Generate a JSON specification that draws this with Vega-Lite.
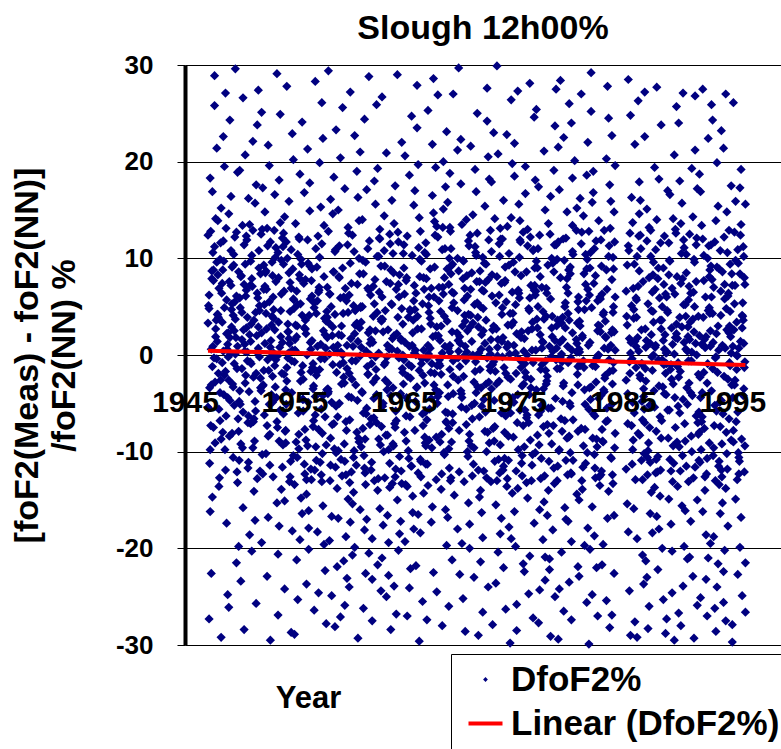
{
"$schema": "https://vega.github.io/schema/vega-lite/v6.json",
"width": 596, "height": 580,
"autosize": "none",
"padding": {"left": 185, "top": 65, "right": 0, "bottom": 104},
"background": "white",
"config": {"view": {"stroke": null}, "font": "Liberation Sans"},
"title": {"text": "Slough 12h00%", "fontSize": 34, "fontWeight": "bold", "font": "Liberation Sans", "color": "black", "anchor": "middle", "frame": "group", "baseline": "alphabetic", "offset": 25, "dy": 46},
"datasets": {
"pts": [
{"x":1947.1,"y":12.4},{"x":1947.4,"y":-3.1},{"x":1947.7,"y":25.8},{"x":1947.2,"y":6.2},{"x":1947.5,"y":-14.7},{"x":1947.8,"y":1.9},{"x":1947.3,"y":18.3},{"x":1947.6,"y":-7.5},{"x":1947.9,"y":9.6},
{"x":1947.1,"y":3.3},{"x":1947.4,"y":-22.6},{"x":1947.7,"y":28.9},{"x":1947.2,"y":4.8},{"x":1947.5,"y":-1.2},{"x":1947.8,"y":14.1},{"x":1947.3,"y":-9.8},{"x":1947.6,"y":7.7},{"x":1947.9,"y":21.4},
{"x":1947.1,"y":-5.4},{"x":1947.4,"y":0.6},{"x":1947.7,"y":11.2},{"x":1947.2,"y":-27.3},{"x":1947.5,"y":16.9},{"x":1947.8,"y":2.7},{"x":1947.3,"y":-16.2},{"x":1947.6,"y":8.8},{"x":1947.9,"y":-0.4},
{"x":1948.0,"y":4.2},{"x":1948.3,"y":-8.7},{"x":1948.6,"y":19.5},{"x":1948.9,"y":1.1},{"x":1948.2,"y":-3.9},{"x":1948.5,"y":11.8},{"x":1948.8,"y":-17.4},{"x":1948.1,"y":6.9},{"x":1948.4,"y":-0.8},{"x":1948.7,"y":27.1},
{"x":1948.1,"y":-5.6},{"x":1948.4,"y":3.4},{"x":1948.7,"y":-11.9},{"x":1948.0,"y":8.3},{"x":1948.3,"y":15.2},{"x":1948.6,"y":-2.1},{"x":1948.9,"y":-24.8},{"x":1948.2,"y":9.9},{"x":1948.5,"y":0.4},{"x":1948.8,"y":5.7},
{"x":1948.2,"y":-6.8},{"x":1948.5,"y":22.6},{"x":1948.8,"y":2.2},{"x":1948.1,"y":-13.6},{"x":1948.4,"y":7.4},{"x":1948.7,"y":-1.7},{"x":1948.0,"y":13.9},{"x":1948.3,"y":-29.2},{"x":1948.6,"y":4.9},{"x":1948.9,"y":-4.4},
{"x":1949.0,"y":-2.6},{"x":1949.3,"y":9.1},{"x":1949.6,"y":3.7},{"x":1949.9,"y":-19.8},{"x":1949.2,"y":16.4},{"x":1949.5,"y":-5.2},{"x":1949.8,"y":0.9},{"x":1949.1,"y":24.3},{"x":1949.4,"y":-10.6},{"x":1949.7,"y":6.1},
{"x":1949.1,"y":1.8},{"x":1949.4,"y":-3.3},{"x":1949.7,"y":12.7},{"x":1949.0,"y":-26.1},{"x":1949.3,"y":5.3},{"x":1949.6,"y":29.6},{"x":1949.9,"y":-7.9},{"x":1949.2,"y":10.8},{"x":1949.5,"y":2.5},{"x":1949.8,"y":-13.2},
{"x":1949.2,"y":7.2},{"x":1949.5,"y":-0.9},{"x":1949.8,"y":18.9},{"x":1949.1,"y":-4.7},{"x":1949.4,"y":4.1},{"x":1949.7,"y":-21.5},{"x":1949.0,"y":14.6},{"x":1949.3,"y":-8.1},{"x":1949.6,"y":0.1},{"x":1949.9,"y":8.6},
{"x":1950.0,"y":5.9},{"x":1950.3,"y":-15.8},{"x":1950.6,"y":2.8},{"x":1950.9,"y":13.5},{"x":1950.2,"y":-1.4},{"x":1950.5,"y":20.7},{"x":1950.8,"y":-6.3},{"x":1950.1,"y":8.1},{"x":1950.4,"y":-28.4},{"x":1950.7,"y":3.9},
{"x":1950.1,"y":-9.2},{"x":1950.4,"y":11.4},{"x":1950.7,"y":0.3},{"x":1950.0,"y":-3.7},{"x":1950.3,"y":26.6},{"x":1950.6,"y":6.7},{"x":1950.9,"y":-18.6},{"x":1950.2,"y":1.6},{"x":1950.5,"y":9.4},{"x":1950.8,"y":-11.1},
{"x":1950.2,"y":4.4},{"x":1950.5,"y":-2.9},{"x":1950.8,"y":16.2},{"x":1950.1,"y":-23.4},{"x":1950.4,"y":7.3},{"x":1950.7,"y":-0.6},{"x":1950.0,"y":19.1},{"x":1950.3,"y":-5.9},{"x":1950.6,"y":12.3},{"x":1950.9,"y":2.1},
{"x":1951.0,"y":-7.1},{"x":1951.3,"y":3.6},{"x":1951.6,"y":-12.8},{"x":1951.9,"y":8.4},{"x":1951.2,"y":22.1},{"x":1951.5,"y":-1.9},{"x":1951.8,"y":5.1},{"x":1951.1,"y":-20.3},{"x":1951.4,"y":15.7},{"x":1951.7,"y":0.7},
{"x":1951.1,"y":10.3},{"x":1951.4,"y":-4.8},{"x":1951.7,"y":27.4},{"x":1951.0,"y":1.4},{"x":1951.3,"y":-14.1},{"x":1951.6,"y":6.4},{"x":1951.9,"y":-2.4},{"x":1951.2,"y":12.9},{"x":1951.5,"y":-25.7},{"x":1951.8,"y":4.6},
{"x":1951.2,"y":-9.6},{"x":1951.5,"y":17.6},{"x":1951.8,"y":-0.2},{"x":1951.1,"y":7.9},{"x":1951.4,"y":-17.1},{"x":1951.7,"y":2.9},{"x":1951.0,"y":9.7},{"x":1951.3,"y":-6.6},{"x":1951.6,"y":23.8},{"x":1951.9,"y":-3.4},
{"x":1952.0,"y":2.3},{"x":1952.3,"y":14.8},{"x":1952.6,"y":-8.4},{"x":1952.9,"y":-0.1},{"x":1952.2,"y":6.8},{"x":1952.5,"y":-22.9},{"x":1952.8,"y":11.7},{"x":1952.1,"y":-3.2},{"x":1952.4,"y":4.3},{"x":1952.7,"y":19.6},
{"x":1952.1,"y":-12.3},{"x":1952.4,"y":8.7},{"x":1952.7,"y":-5.1},{"x":1952.0,"y":25.1},{"x":1952.3,"y":1.2},{"x":1952.6,"y":-16.8},{"x":1952.9,"y":3.1},{"x":1952.2,"y":-1.6},{"x":1952.5,"y":13.1},{"x":1952.8,"y":-29.5},
{"x":1952.2,"y":9.3},{"x":1952.5,"y":-7.3},{"x":1952.8,"y":0.8},{"x":1952.1,"y":17.3},{"x":1952.4,"y":-10.2},{"x":1952.7,"y":5.5},{"x":1952.0,"y":-19.4},{"x":1952.3,"y":7.1},{"x":1952.6,"y":21.7},{"x":1952.9,"y":-4.1},
{"x":1953.0,"y":-4.9},{"x":1953.3,"y":7.6},{"x":1953.6,"y":18.1},{"x":1953.9,"y":-11.6},{"x":1953.2,"y":2.6},{"x":1953.5,"y":-26.9},{"x":1953.8,"y":9.8},{"x":1953.1,"y":0.2},{"x":1953.4,"y":-6.9},{"x":1953.7,"y":13.7},
{"x":1953.1,"y":4.7},{"x":1953.4,"y":-15.3},{"x":1953.7,"y":24.9},{"x":1953.0,"y":-2.2},{"x":1953.3,"y":11.1},{"x":1953.6,"y":-8.9},{"x":1953.9,"y":1.3},{"x":1953.2,"y":16.6},{"x":1953.5,"y":-20.6},{"x":1953.8,"y":6.3},
{"x":1953.2,"y":-1.1},{"x":1953.5,"y":10.6},{"x":1953.8,"y":-13.9},{"x":1953.1,"y":3.8},{"x":1953.4,"y":29.1},{"x":1953.7,"y":-5.7},{"x":1953.0,"y":8.2},{"x":1953.3,"y":-0.5},{"x":1953.6,"y":-17.7},{"x":1953.9,"y":12.1},
{"x":1954.0,"y":9.4},{"x":1954.3,"y":-2.7},{"x":1954.6,"y":4.5},{"x":1954.9,"y":20.2},{"x":1954.2,"y":-9.1},{"x":1954.5,"y":1.7},{"x":1954.8,"y":-18.2},{"x":1954.1,"y":14.3},{"x":1954.4,"y":-0.3},{"x":1954.7,"y":6.9},
{"x":1954.1,"y":-24.2},{"x":1954.4,"y":3.2},{"x":1954.7,"y":10.9},{"x":1954.0,"y":-6.1},{"x":1954.3,"y":27.8},{"x":1954.6,"y":-12.6},{"x":1954.9,"y":5.8},{"x":1954.2,"y":-3.6},{"x":1954.5,"y":15.9},{"x":1954.8,"y":0.5},
{"x":1954.2,"y":-7.8},{"x":1954.5,"y":8.5},{"x":1954.8,"y":22.9},{"x":1954.1,"y":-15.1},{"x":1954.4,"y":2.4},{"x":1954.7,"y":-28.7},{"x":1954.0,"y":12.6},{"x":1954.3,"y":-1.3},{"x":1954.6,"y":7.5},{"x":1954.9,"y":-10.4},
{"x":1955.0,"y":-13.4},{"x":1955.3,"y":5.2},{"x":1955.6,"y":-1.8},{"x":1955.9,"y":16.8},{"x":1955.2,"y":-21.2},{"x":1955.5,"y":7.9},{"x":1955.8,"y":-4.6},{"x":1955.1,"y":0.4},{"x":1955.4,"y":12.2},{"x":1955.7,"y":-16.4},
{"x":1955.1,"y":3.1},{"x":1955.4,"y":-8.2},{"x":1955.7,"y":24.1},{"x":1955.0,"y":-0.7},{"x":1955.3,"y":-25.3},{"x":1955.6,"y":9.9},{"x":1955.9,"y":-11.3},{"x":1955.2,"y":1.9},{"x":1955.5,"y":18.7},{"x":1955.8,"y":-5.8},
{"x":1955.2,"y":6.6},{"x":1955.5,"y":-19.1},{"x":1955.8,"y":-2.5},{"x":1955.1,"y":13.6},{"x":1955.4,"y":-9.7},{"x":1955.7,"y":4.1},{"x":1955.0,"y":-28.9},{"x":1955.3,"y":10.4},{"x":1955.6,"y":-14.8},{"x":1955.9,"y":2.8},
{"x":1956.0,"y":7.8},{"x":1956.3,"y":-17.9},{"x":1956.6,"y":1.5},{"x":1956.9,"y":-6.2},{"x":1956.2,"y":21.3},{"x":1956.5,"y":-11.8},{"x":1956.8,"y":4.9},{"x":1956.1,"y":-23.7},{"x":1956.4,"y":9.2},{"x":1956.7,"y":-0.9},
{"x":1956.1,"y":-14.4},{"x":1956.4,"y":14.9},{"x":1956.7,"y":-3.5},{"x":1956.0,"y":2.7},{"x":1956.3,"y":-20.1},{"x":1956.6,"y":6.1},{"x":1956.9,"y":28.3},{"x":1956.2,"y":-9.4},{"x":1956.5,"y":0.6},{"x":1956.8,"y":-26.4},
{"x":1956.2,"y":11.9},{"x":1956.5,"y":-1.7},{"x":1956.8,"y":5.4},{"x":1956.1,"y":-12.9},{"x":1956.4,"y":17.8},{"x":1956.7,"y":-7.4},{"x":1956.0,"y":3.6},{"x":1956.3,"y":-16.1},{"x":1956.6,"y":8.9},{"x":1956.9,"y":-4.3},
{"x":1957.0,"y":-2.1},{"x":1957.3,"y":10.1},{"x":1957.6,"y":-15.6},{"x":1957.9,"y":3.5},{"x":1957.2,"y":-7.7},{"x":1957.5,"y":26.1},{"x":1957.8,"y":-22.3},{"x":1957.1,"y":5.6},{"x":1957.4,"y":-0.4},{"x":1957.7,"y":13.4},
{"x":1957.1,"y":-18.3},{"x":1957.4,"y":1.1},{"x":1957.7,"y":8.1},{"x":1957.0,"y":-10.9},{"x":1957.3,"y":19.9},{"x":1957.6,"y":-4.2},{"x":1957.9,"y":-27.8},{"x":1957.2,"y":6.5},{"x":1957.5,"y":-13.1},{"x":1957.8,"y":2.1},
{"x":1957.2,"y":-24.6},{"x":1957.5,"y":11.5},{"x":1957.8,"y":-6.4},{"x":1957.1,"y":0.9},{"x":1957.4,"y":15.3},{"x":1957.7,"y":-19.6},{"x":1957.0,"y":4.3},{"x":1957.3,"y":-1.5},{"x":1957.6,"y":22.4},{"x":1957.9,"y":-9.3},
{"x":1958.0,"y":3.9},{"x":1958.3,"y":-11.4},{"x":1958.6,"y":8.6},{"x":1958.9,"y":-21.9},{"x":1958.2,"y":0.1},{"x":1958.5,"y":14.6},{"x":1958.8,"y":-5.3},{"x":1958.1,"y":29.4},{"x":1958.4,"y":-16.7},{"x":1958.7,"y":4.2},
{"x":1958.1,"y":-3.8},{"x":1958.4,"y":-24.9},{"x":1958.7,"y":10.7},{"x":1958.0,"y":1.8},{"x":1958.3,"y":-8.6},{"x":1958.6,"y":18.4},{"x":1958.9,"y":-13.8},{"x":1958.2,"y":6.3},{"x":1958.5,"y":-1.0},{"x":1958.8,"y":23.3},
{"x":1958.2,"y":-19.2},{"x":1958.5,"y":2.9},{"x":1958.8,"y":-10.1},{"x":1958.1,"y":12.8},{"x":1958.4,"y":-4.9},{"x":1958.7,"y":-28.1},{"x":1958.0,"y":7.0},{"x":1958.3,"y":16.1},{"x":1958.6,"y":-7.1},{"x":1958.9,"y":0.3},
{"x":1959.0,"y":-9.9},{"x":1959.3,"y":2.0},{"x":1959.6,"y":17.2},{"x":1959.9,"y":-14.9},{"x":1959.2,"y":5.9},{"x":1959.5,"y":-2.3},{"x":1959.8,"y":-23.1},{"x":1959.1,"y":11.3},{"x":1959.4,"y":0.0},{"x":1959.7,"y":-18.8},
{"x":1959.1,"y":8.0},{"x":1959.4,"y":25.6},{"x":1959.7,"y":-6.9},{"x":1959.0,"y":-16.9},{"x":1959.3,"y":3.0},{"x":1959.6,"y":-11.0},{"x":1959.9,"y":13.2},{"x":1959.2,"y":-27.1},{"x":1959.5,"y":6.0},{"x":1959.8,"y":-1.4},
{"x":1959.2,"y":20.4},{"x":1959.5,"y":-21.3},{"x":1959.8,"y":1.0},{"x":1959.1,"y":-5.0},{"x":1959.4,"y":9.0},{"x":1959.7,"y":-12.4},{"x":1959.0,"y":15.0},{"x":1959.3,"y":-3.0},{"x":1959.6,"y":-25.9},{"x":1959.9,"y":4.4},
{"x":1960.0,"y":6.2},{"x":1960.3,"y":-20.7},{"x":1960.6,"y":-3.1},{"x":1960.9,"y":10.0},{"x":1960.2,"y":-12.1},{"x":1960.5,"y":22.7},{"x":1960.8,"y":1.4},{"x":1960.1,"y":-17.3},{"x":1960.4,"y":5.1},{"x":1960.7,"y":-8.0},
{"x":1960.1,"y":27.2},{"x":1960.4,"y":-14.2},{"x":1960.7,"y":3.3},{"x":1960.0,"y":-24.0},{"x":1960.3,"y":12.4},{"x":1960.6,"y":-0.6},{"x":1960.9,"y":-9.0},{"x":1960.2,"y":7.4},{"x":1960.5,"y":-19.9},{"x":1960.8,"y":16.3},
{"x":1960.2,"y":-4.4},{"x":1960.5,"y":2.2},{"x":1960.8,"y":-29.3},{"x":1960.1,"y":9.5},{"x":1960.4,"y":-10.6},{"x":1960.7,"y":19.0},{"x":1960.0,"y":-1.9},{"x":1960.3,"y":-15.4},{"x":1960.6,"y":4.7},{"x":1960.9,"y":13.9},
{"x":1961.0,"y":-16.0},{"x":1961.3,"y":8.4},{"x":1961.6,"y":-5.5},{"x":1961.9,"y":1.2},{"x":1961.2,"y":14.0},{"x":1961.5,"y":-22.6},{"x":1961.8,"y":6.7},{"x":1961.1,"y":-9.5},{"x":1961.4,"y":24.4},{"x":1961.7,"y":-2.0},
{"x":1961.1,"y":3.4},{"x":1961.4,"y":-18.1},{"x":1961.7,"y":11.0},{"x":1961.0,"y":-0.1},{"x":1961.3,"y":-26.2},{"x":1961.6,"y":17.1},{"x":1961.9,"y":-7.2},{"x":1961.2,"y":5.0},{"x":1961.5,"y":-13.4},{"x":1961.8,"y":28.8},
{"x":1961.2,"y":-3.9},{"x":1961.5,"y":9.6},{"x":1961.8,"y":-20.5},{"x":1961.1,"y":0.8},{"x":1961.4,"y":-11.7},{"x":1961.7,"y":6.9},{"x":1961.0,"y":21.0},{"x":1961.3,"y":-6.0},{"x":1961.6,"y":-17.0},{"x":1961.9,"y":2.6},
{"x":1962.0,"y":1.6},{"x":1962.3,"y":-13.0},{"x":1962.6,"y":19.3},{"x":1962.9,"y":-24.4},{"x":1962.2,"y":7.1},{"x":1962.5,"y":-4.1},{"x":1962.8,"y":12.0},{"x":1962.1,"y":-19.0},{"x":1962.4,"y":2.5},{"x":1962.7,"y":-8.7},
{"x":1962.1,"y":-27.5},{"x":1962.4,"y":15.6},{"x":1962.7,"y":0.2},{"x":1962.0,"y":-11.9},{"x":1962.3,"y":5.3},{"x":1962.6,"y":-21.7},{"x":1962.9,"y":9.2},{"x":1962.2,"y":-2.8},{"x":1962.5,"y":25.9},{"x":1962.8,"y":-15.9},
{"x":1962.2,"y":4.0},{"x":1962.5,"y":-7.0},{"x":1962.8,"y":13.0},{"x":1962.1,"y":-23.2},{"x":1962.4,"y":-0.2},{"x":1962.7,"y":10.2},{"x":1962.0,"y":-6.6},{"x":1962.3,"y":18.0},{"x":1962.6,"y":-14.0},{"x":1962.9,"y":3.7},
{"x":1963.0,"y":-21.0},{"x":1963.3,"y":4.6},{"x":1963.6,"y":-9.8},{"x":1963.9,"y":16.0},{"x":1963.2,"y":-1.0},{"x":1963.5,"y":-16.6},{"x":1963.8,"y":8.8},{"x":1963.1,"y":2.4},{"x":1963.4,"y":-25.0},{"x":1963.7,"y":12.5},
{"x":1963.1,"y":-5.0},{"x":1963.4,"y":20.9},{"x":1963.7,"y":-13.7},{"x":1963.0,"y":6.0},{"x":1963.3,"y":-2.6},{"x":1963.6,"y":-19.4},{"x":1963.9,"y":0.6},{"x":1963.2,"y":10.8},{"x":1963.5,"y":-8.3},{"x":1963.8,"y":-28.4},
{"x":1963.2,"y":14.4},{"x":1963.5,"y":1.0},{"x":1963.8,"y":-4.2},{"x":1963.1,"y":-17.6},{"x":1963.4,"y":7.6},{"x":1963.7,"y":-11.2},{"x":1963.0,"y":26.7},{"x":1963.3,"y":-0.8},{"x":1963.6,"y":-22.8},{"x":1963.9,"y":5.2},
{"x":1964.0,"y":10.5},{"x":1964.3,"y":-6.8},{"x":1964.6,"y":-18.5},{"x":1964.9,"y":3.2},{"x":1964.2,"y":-12.6},{"x":1964.5,"y":7.3},{"x":1964.8,"y":22.0},{"x":1964.1,"y":-23.9},{"x":1964.4,"y":0.4},{"x":1964.7,"y":-4.0},
{"x":1964.1,"y":13.6},{"x":1964.4,"y":-15.0},{"x":1964.7,"y":1.7},{"x":1964.0,"y":-9.2},{"x":1964.3,"y":-26.8},{"x":1964.6,"y":8.3},{"x":1964.9,"y":-1.8},{"x":1964.2,"y":17.5},{"x":1964.5,"y":-20.2},{"x":1964.8,"y":4.8},
{"x":1964.2,"y":-7.5},{"x":1964.5,"y":11.7},{"x":1964.8,"y":-13.3},{"x":1964.1,"y":2.0},{"x":1964.4,"y":29.0},{"x":1964.7,"y":-17.2},{"x":1964.0,"y":-3.4},{"x":1964.3,"y":6.8},{"x":1964.6,"y":-10.5},{"x":1964.9,"y":0.0},
{"x":1965.0,"y":-0.5},{"x":1965.3,"y":12.3},{"x":1965.6,"y":-22.1},{"x":1965.9,"y":5.6},{"x":1965.2,"y":-8.9},{"x":1965.5,"y":18.6},{"x":1965.8,"y":-14.6},{"x":1965.1,"y":1.3},{"x":1965.4,"y":-4.7},{"x":1965.7,"y":24.7},
{"x":1965.1,"y":-19.3},{"x":1965.4,"y":3.9},{"x":1965.7,"y":-11.5},{"x":1965.0,"y":9.0},{"x":1965.3,"y":-27.0},{"x":1965.6,"y":-2.4},{"x":1965.9,"y":15.5},{"x":1965.2,"y":-6.3},{"x":1965.5,"y":0.9},{"x":1965.8,"y":-16.3},
{"x":1965.2,"y":7.7},{"x":1965.5,"y":-24.1},{"x":1965.8,"y":2.3},{"x":1965.1,"y":20.6},{"x":1965.4,"y":-9.9},{"x":1965.7,"y":-1.2},{"x":1965.0,"y":11.4},{"x":1965.3,"y":-13.6},{"x":1965.6,"y":4.5},{"x":1965.9,"y":-18.0},
{"x":1966.0,"y":4.7},{"x":1966.3,"y":-16.5},{"x":1966.6,"y":9.7},{"x":1966.9,"y":-2.9},{"x":1966.2,"y":23.5},{"x":1966.5,"y":-10.8},{"x":1966.8,"y":0.5},{"x":1966.1,"y":-21.8},{"x":1966.4,"y":14.2},{"x":1966.7,"y":-6.1},
{"x":1966.1,"y":6.4},{"x":1966.4,"y":-1.6},{"x":1966.7,"y":-25.5},{"x":1966.0,"y":17.0},{"x":1966.3,"y":-12.2},{"x":1966.6,"y":2.7},{"x":1966.9,"y":-8.5},{"x":1966.2,"y":27.9},{"x":1966.5,"y":-18.4},{"x":1966.8,"y":8.0},
{"x":1966.2,"y":-3.3},{"x":1966.5,"y":12.8},{"x":1966.8,"y":-14.3},{"x":1966.1,"y":0.0},{"x":1966.4,"y":-29.6},{"x":1966.7,"y":5.3},{"x":1966.0,"y":-7.8},{"x":1966.3,"y":19.7},{"x":1966.6,"y":-0.9},{"x":1966.9,"y":10.6},
{"x":1967.0,"y":-11.3},{"x":1967.3,"y":6.0},{"x":1967.6,"y":21.8},{"x":1967.9,"y":-3.6},{"x":1967.2,"y":1.0},{"x":1967.5,"y":-17.3},{"x":1967.8,"y":13.8},{"x":1967.1,"y":-6.7},{"x":1967.4,"y":8.9},{"x":1967.7,"y":28.6},
{"x":1967.1,"y":-0.4},{"x":1967.4,"y":3.8},{"x":1967.7,"y":-22.5},{"x":1967.0,"y":11.6},{"x":1967.3,"y":-8.8},{"x":1967.6,"y":16.5},{"x":1967.9,"y":2.0},{"x":1967.2,"y":-13.5},{"x":1967.5,"y":6.9},{"x":1967.8,"y":-1.9},
{"x":1967.2,"y":25.3},{"x":1967.5,"y":-4.5},{"x":1967.8,"y":9.1},{"x":1967.1,"y":-27.4},{"x":1967.4,"y":0.7},{"x":1967.7,"y":14.7},{"x":1967.0,"y":-9.4},{"x":1967.3,"y":4.4},{"x":1967.6,"y":-15.7},{"x":1967.9,"y":19.4},
{"x":1968.0,"y":2.9},{"x":1968.3,"y":-9.0},{"x":1968.6,"y":15.1},{"x":1968.9,"y":-19.7},{"x":1968.2,"y":7.0},{"x":1968.5,"y":0.2},{"x":1968.8,"y":-5.9},{"x":1968.1,"y":26.9},{"x":1968.4,"y":-13.9},{"x":1968.7,"y":4.0},
{"x":1968.1,"y":12.2},{"x":1968.4,"y":-2.0},{"x":1968.7,"y":8.0},{"x":1968.0,"y":-24.5},{"x":1968.3,"y":1.5},{"x":1968.6,"y":20.0},{"x":1968.9,"y":-7.0},{"x":1968.2,"y":-0.9},{"x":1968.5,"y":10.9},{"x":1968.8,"y":-16.0},
{"x":1968.2,"y":5.6},{"x":1968.5,"y":-28.0},{"x":1968.8,"y":17.4},{"x":1968.1,"y":-4.3},{"x":1968.4,"y":3.0},{"x":1968.7,"y":-10.3},{"x":1968.0,"y":13.3},{"x":1968.3,"y":-1.1},{"x":1968.6,"y":6.3},{"x":1968.9,"y":23.1},
{"x":1969.0,"y":-6.0},{"x":1969.3,"y":11.0},{"x":1969.6,"y":-14.5},{"x":1969.9,"y":4.6},{"x":1969.2,"y":18.8},{"x":1969.5,"y":-2.2},{"x":1969.1,"y":7.3},{"x":1969.4,"y":-21.2},{"x":1969.2,"y":0.3},{"x":1969.0,"y":15.8},
{"x":1969.1,"y":-9.7},{"x":1969.4,"y":2.4},{"x":1969.5,"y":27.0},{"x":1969.0,"y":-3.1},{"x":1969.3,"y":9.2},{"x":1969.9,"y":-18.0},{"x":1969.2,"y":1.0},{"x":1969.3,"y":-12.7},{"x":1969.4,"y":6.5},{"x":1969.1,"y":-26.0},
{"x":1969.2,"y":13.2},{"x":1969.5,"y":-0.6},{"x":1969.9,"y":21.2},{"x":1969.1,"y":-7.6},{"x":1969.4,"y":4.9},{"x":1969.0,"y":-16.8},{"x":1969.3,"y":8.4},{"x":1969.5,"y":-4.0},{"x":1969.9,"y":10.0},{"x":1969.2,"y":-1.5},
{"x":1970.0,"y":8.7},{"x":1970.3,"y":-4.4},{"x":1970.6,"y":0.9},{"x":1970.9,"y":-15.3},{"x":1970.2,"y":22.3},{"x":1970.5,"y":5.7},{"x":1970.8,"y":-10.0},{"x":1970.1,"y":1.9},{"x":1970.4,"y":-25.2},{"x":1970.7,"y":14.0},
{"x":1970.1,"y":-1.2},{"x":1970.4,"y":7.9},{"x":1970.7,"y":-7.2},{"x":1970.0,"y":29.7},{"x":1970.3,"y":-19.5},{"x":1970.6,"y":3.5},{"x":1970.9,"y":11.8},{"x":1970.2,"y":-3.7},{"x":1970.5,"y":-13.1},{"x":1970.8,"y":6.1},
{"x":1970.2,"y":17.7},{"x":1970.5,"y":-0.1},{"x":1970.8,"y":2.5},{"x":1970.1,"y":-22.7},{"x":1970.4,"y":9.8},{"x":1970.7,"y":-5.6},{"x":1970.0,"y":0.4},{"x":1970.3,"y":13.5},{"x":1970.6,"y":-28.6},{"x":1970.9,"y":4.2},
{"x":1971.0,"y":-17.5},{"x":1971.3,"y":3.3},{"x":1971.6,"y":10.3},{"x":1971.9,"y":-6.4},{"x":1971.2,"y":1.4},{"x":1971.5,"y":19.2},{"x":1971.8,"y":-11.9},{"x":1971.1,"y":6.8},{"x":1971.4,"y":-2.8},{"x":1971.7,"y":25.0},
{"x":1971.1,"y":4.1},{"x":1971.4,"y":-23.0},{"x":1971.7,"y":12.6},{"x":1971.0,"y":-8.2},{"x":1971.3,"y":0.0},{"x":1971.6,"y":16.9},{"x":1971.9,"y":-14.7},{"x":1971.2,"y":8.5},{"x":1971.5,"y":-1.7},{"x":1971.8,"y":-29.0},
{"x":1971.2,"y":-5.2},{"x":1971.5,"y":11.2},{"x":1971.8,"y":2.9},{"x":1971.1,"y":21.6},{"x":1971.4,"y":-9.6},{"x":1971.7,"y":5.4},{"x":1971.0,"y":-20.0},{"x":1971.3,"y":14.5},{"x":1971.6,"y":-3.9},{"x":1971.9,"y":7.6},
{"x":1972.0,"y":5.0},{"x":1972.3,"y":-12.0},{"x":1972.6,"y":27.6},{"x":1972.9,"y":-1.6},{"x":1972.2,"y":-18.9},{"x":1972.5,"y":9.4},{"x":1972.8,"y":0.6},{"x":1972.1,"y":-5.3},{"x":1972.4,"y":15.4},{"x":1972.7,"y":-24.0},
{"x":1972.1,"y":2.1},{"x":1972.4,"y":-7.9},{"x":1972.7,"y":20.5},{"x":1972.0,"y":-14.0},{"x":1972.3,"y":6.6},{"x":1972.6,"y":-0.3},{"x":1972.9,"y":12.9},{"x":1972.2,"y":-26.6},{"x":1972.5,"y":3.6},{"x":1972.8,"y":-9.1},
{"x":1972.2,"y":10.1},{"x":1972.5,"y":-3.0},{"x":1972.8,"y":18.2},{"x":1972.1,"y":-16.3},{"x":1972.4,"y":1.2},{"x":1972.7,"y":7.8},{"x":1972.0,"y":-21.4},{"x":1972.3,"y":-4.6},{"x":1972.6,"y":24.2},{"x":1972.9,"y":0.1},
{"x":1973.0,"y":-3.5},{"x":1973.3,"y":14.1},{"x":1973.6,"y":-20.4},{"x":1973.9,"y":7.4},{"x":1973.2,"y":-0.7},{"x":1973.5,"y":29.9},{"x":1973.8,"y":-9.3},{"x":1973.1,"y":2.6},{"x":1973.4,"y":-15.5},{"x":1973.7,"y":11.5},
{"x":1973.1,"y":-27.9},{"x":1973.4,"y":5.4},{"x":1973.7,"y":-2.7},{"x":1973.0,"y":17.9},{"x":1973.3,"y":-11.0},{"x":1973.6,"y":1.6},{"x":1973.9,"y":-6.0},{"x":1973.2,"y":23.0},{"x":1973.5,"y":8.1},{"x":1973.8,"y":-18.5},
{"x":1973.2,"y":3.0},{"x":1973.5,"y":-13.0},{"x":1973.8,"y":13.1},{"x":1973.1,"y":-1.0},{"x":1973.4,"y":-23.6},{"x":1973.7,"y":6.2},{"x":1973.0,"y":10.7},{"x":1973.3,"y":-7.4},{"x":1973.6,"y":20.8},{"x":1973.9,"y":-16.9},
{"x":1974.0,"y":12.0},{"x":1974.3,"y":-1.9},{"x":1974.6,"y":-17.8},{"x":1974.9,"y":6.5},{"x":1974.2,"y":-10.7},{"x":1974.5,"y":3.1},{"x":1974.8,"y":26.4},{"x":1974.1,"y":-22.0},{"x":1974.4,"y":0.8},{"x":1974.7,"y":-5.0},
{"x":1974.1,"y":16.0},{"x":1974.4,"y":-13.6},{"x":1974.7,"y":4.3},{"x":1974.0,"y":-0.2},{"x":1974.3,"y":-26.3},{"x":1974.6,"y":9.3},{"x":1974.9,"y":19.8},{"x":1974.2,"y":-8.0},{"x":1974.5,"y":1.1},{"x":1974.8,"y":-19.0},
{"x":1974.2,"y":7.5},{"x":1974.5,"y":-2.3},{"x":1974.8,"y":14.2},{"x":1974.1,"y":-11.5},{"x":1974.4,"y":22.8},{"x":1974.7,"y":-29.8},{"x":1974.0,"y":4.9},{"x":1974.3,"y":-6.3},{"x":1974.6,"y":10.5},{"x":1974.9,"y":-14.3},
{"x":1975.0,"y":-8.5},{"x":1975.3,"y":2.2},{"x":1975.6,"y":13.9},{"x":1975.9,"y":-21.6},{"x":1975.2,"y":5.2},{"x":1975.5,"y":-0.4},{"x":1975.8,"y":-12.5},{"x":1975.1,"y":18.5},{"x":1975.4,"y":-4.1},{"x":1975.7,"y":8.2},
{"x":1975.1,"y":-16.2},{"x":1975.4,"y":27.3},{"x":1975.7,"y":-1.3},{"x":1975.0,"y":3.4},{"x":1975.3,"y":-25.8},{"x":1975.6,"y":11.9},{"x":1975.9,"y":-7.3},{"x":1975.2,"y":0.2},{"x":1975.5,"y":15.6},{"x":1975.8,"y":-10.4},
{"x":1975.2,"y":-19.8},{"x":1975.5,"y":6.4},{"x":1975.8,"y":-3.2},{"x":1975.1,"y":21.9},{"x":1975.4,"y":-13.8},{"x":1975.7,"y":1.8},{"x":1975.0,"y":9.6},{"x":1975.3,"y":-28.5},{"x":1975.6,"y":-5.7},{"x":1975.9,"y":12.7},
{"x":1976.0,"y":1.7},{"x":1976.3,"y":-14.8},{"x":1976.6,"y":7.2},{"x":1976.9,"y":24.6},{"x":1976.2,"y":-6.5},{"x":1976.5,"y":-20.8},{"x":1976.8,"y":10.8},{"x":1976.1,"y":-1.8},{"x":1976.4,"y":4.8},{"x":1976.7,"y":-11.4},
{"x":1976.1,"y":19.5},{"x":1976.4,"y":-24.7},{"x":1976.7,"y":2.7},{"x":1976.0,"y":-9.5},{"x":1976.3,"y":13.0},{"x":1976.6,"y":-3.4},{"x":1976.9,"y":-17.4},{"x":1976.2,"y":8.6},{"x":1976.5,"y":28.1},{"x":1976.8,"y":-0.8},
{"x":1976.2,"y":-13.2},{"x":1976.5,"y":5.9},{"x":1976.8,"y":-27.2},{"x":1976.1,"y":16.7},{"x":1976.4,"y":-7.0},{"x":1976.7,"y":0.5},{"x":1976.0,"y":-22.4},{"x":1976.3,"y":11.3},{"x":1976.6,"y":-2.5},{"x":1976.9,"y":6.7},
{"x":1977.0,"y":-10.1},{"x":1977.3,"y":17.4},{"x":1977.6,"y":-1.0},{"x":1977.9,"y":-23.3},{"x":1977.2,"y":9.0},{"x":1977.5,"y":-5.8},{"x":1977.8,"y":3.7},{"x":1977.1,"y":25.4},{"x":1977.4,"y":-16.0},{"x":1977.7,"y":1.3},
{"x":1977.1,"y":-3.6},{"x":1977.4,"y":12.4},{"x":1977.7,"y":-19.1},{"x":1977.0,"y":6.2},{"x":1977.3,"y":-27.7},{"x":1977.6,"y":0.7},{"x":1977.9,"y":15.0},{"x":1977.2,"y":-8.3},{"x":1977.5,"y":-12.8},{"x":1977.8,"y":21.1},
{"x":1977.2,"y":2.8},{"x":1977.5,"y":-1.5},{"x":1977.8,"y":-15.2},{"x":1977.1,"y":9.7},{"x":1977.4,"y":-24.3},{"x":1977.7,"y":4.5},{"x":1977.0,"y":18.1},{"x":1977.3,"y":-6.2},{"x":1977.6,"y":7.0},{"x":1977.9,"y":-20.9},
{"x":1978.0,"y":6.9},{"x":1978.3,"y":-21.1},{"x":1978.6,"y":0.4},{"x":1978.9,"y":11.4},{"x":1978.2,"y":-14.0},{"x":1978.5,"y":2.8},{"x":1978.8,"y":23.7},{"x":1978.1,"y":-7.2},{"x":1978.4,"y":-29.1},{"x":1978.7,"y":8.6},
{"x":1978.1,"y":-2.2},{"x":1978.4,"y":16.4},{"x":1978.7,"y":-11.7},{"x":1978.0,"y":4.0},{"x":1978.3,"y":0.9},{"x":1978.6,"y":-18.1},{"x":1978.9,"y":27.5},{"x":1978.2,"y":-5.5},{"x":1978.5,"y":10.0},{"x":1978.8,"y":-25.0},
{"x":1978.2,"y":13.6},{"x":1978.5,"y":-9.2},{"x":1978.8,"y":1.5},{"x":1978.1,"y":-16.6},{"x":1978.4,"y":5.8},{"x":1978.7,"y":19.1},{"x":1978.0,"y":-3.0},{"x":1978.3,"y":-22.2},{"x":1978.6,"y":9.5},{"x":1978.9,"y":-0.5},
{"x":1979.0,"y":-1.4},{"x":1979.3,"y":8.0},{"x":1979.6,"y":-26.5},{"x":1979.9,"y":14.8},{"x":1979.2,"y":-9.8},{"x":1979.5,"y":3.9},{"x":1979.8,"y":-17.0},{"x":1979.1,"y":21.5},{"x":1979.4,"y":0.1},{"x":1979.7,"y":-6.8},
{"x":1979.1,"y":11.7},{"x":1979.4,"y":-20.4},{"x":1979.7,"y":5.0},{"x":1979.0,"y":-13.0},{"x":1979.3,"y":28.4},{"x":1979.6,"y":-2.9},{"x":1979.9,"y":7.9},{"x":1979.2,"y":-24.2},{"x":1979.5,"y":1.6},{"x":1979.8,"y":-10.9},
{"x":1979.2,"y":17.1},{"x":1979.5,"y":-4.8},{"x":1979.8,"y":12.1},{"x":1979.1,"y":-29.4},{"x":1979.4,"y":3.3},{"x":1979.7,"y":-15.8},{"x":1979.0,"y":9.9},{"x":1979.3,"y":-0.2},{"x":1979.6,"y":22.5},{"x":1979.9,"y":-8.6},
{"x":1980.0,"y":4.3},{"x":1980.3,"y":-12.3},{"x":1980.6,"y":20.1},{"x":1980.9,"y":-3.1},{"x":1980.2,"y":8.4},{"x":1980.1,"y":-23.5},{"x":1980.8,"y":1.2},{"x":1980.4,"y":13.4},{"x":1980.9,"y":-7.9},{"x":1980.0,"y":-17.2},
{"x":1980.1,"y":26.0},{"x":1980.4,"y":2.3},{"x":1980.2,"y":-10.1},{"x":1980.0,"y":6.4},{"x":1980.3,"y":-27.4},{"x":1980.8,"y":15.2},{"x":1980.9,"y":-1.2},{"x":1980.2,"y":9.1},{"x":1980.3,"y":-19.3},{"x":1980.8,"y":0.3},
{"x":1980.2,"y":-5.3},{"x":1980.4,"y":18.3},{"x":1980.8,"y":-14.4},{"x":1980.1,"y":3.6},{"x":1980.4,"y":10.7},{"x":1980.9,"y":-21.9},{"x":1980.0,"y":-0.8},{"x":1980.3,"y":24.0},{"x":1980.1,"y":-8.4},{"x":1980.9,"y":5.5},
{"x":1981.0,"y":-15.0},{"x":1981.3,"y":1.8},{"x":1981.6,"y":10.4},{"x":1981.9,"y":-5.6},{"x":1981.2,"y":27.0},{"x":1981.5,"y":-19.7},{"x":1981.8,"y":6.8},{"x":1981.1,"y":-1.1},{"x":1981.4,"y":14.4},{"x":1981.7,"y":-25.6},
{"x":1981.1,"y":3.0},{"x":1981.4,"y":-9.4},{"x":1981.7,"y":18.6},{"x":1981.0,"y":0.6},{"x":1981.3,"y":-13.9},{"x":1981.6,"y":7.3},{"x":1981.9,"y":-29.9},{"x":1981.2,"y":11.5},{"x":1981.5,"y":-3.6},{"x":1981.8,"y":22.0},
{"x":1981.2,"y":-7.6},{"x":1981.5,"y":4.7},{"x":1981.8,"y":-17.9},{"x":1981.1,"y":16.2},{"x":1981.4,"y":-0.6},{"x":1981.7,"y":8.9},{"x":1981.0,"y":-22.9},{"x":1981.3,"y":2.0},{"x":1981.6,"y":-11.2},{"x":1981.9,"y":12.8},
{"x":1982.0,"y":9.0},{"x":1982.3,"y":-6.1},{"x":1982.6,"y":-22.0},{"x":1982.9,"y":3.0},{"x":1982.2,"y":15.8},{"x":1982.5,"y":-12.7},{"x":1982.8,"y":0.0},{"x":1982.1,"y":25.2},{"x":1982.4,"y":-18.7},{"x":1982.7,"y":5.6},
{"x":1982.1,"y":-3.3},{"x":1982.4,"y":11.0},{"x":1982.7,"y":-27.0},{"x":1982.0,"y":1.3},{"x":1982.3,"y":19.0},{"x":1982.6,"y":-8.7},{"x":1982.9,"y":6.0},{"x":1982.2,"y":-15.7},{"x":1982.5,"y":-1.2},{"x":1982.8,"y":13.9},
{"x":1982.2,"y":-24.8},{"x":1982.5,"y":8.2},{"x":1982.8,"y":-4.5},{"x":1982.1,"y":29.2},{"x":1982.4,"y":-10.3},{"x":1982.7,"y":2.5},{"x":1982.0,"y":-20.1},{"x":1982.3,"y":16.8},{"x":1982.6,"y":-0.3},{"x":1982.9,"y":-13.5},
{"x":1983.0,"y":-4.2},{"x":1983.3,"y":12.9},{"x":1983.6,"y":-16.9},{"x":1983.9,"y":1.0},{"x":1983.2,"y":-9.0},{"x":1983.5,"y":20.3},{"x":1983.8,"y":-28.2},{"x":1983.1,"y":6.3},{"x":1983.4,"y":-2.1},{"x":1983.7,"y":10.2},
{"x":1983.1,"y":-21.7},{"x":1983.4,"y":3.5},{"x":1983.7,"y":24.5},{"x":1983.0,"y":-12.4},{"x":1983.3,"y":0.7},{"x":1983.6,"y":-6.8},{"x":1983.9,"y":15.9},{"x":1983.2,"y":-19.6},{"x":1983.5,"y":8.8},{"x":1983.8,"y":-1.7},
{"x":1983.2,"y":4.2},{"x":1983.5,"y":-25.4},{"x":1983.8,"y":17.6},{"x":1983.1,"y":-7.7},{"x":1983.4,"y":1.9},{"x":1983.7,"y":-14.1},{"x":1983.0,"y":11.9},{"x":1983.3,"y":-3.8},{"x":1983.6,"y":27.8},{"x":1983.9,"y":-10.6},
{"x":1984.0,"y":7.8},{"x":1984.1,"y":-13.3},{"x":1984.2,"y":2.4},{"x":1984.3,"y":19.6},{"x":1984.0,"y":-5.1},{"x":1984.1,"y":10.1},{"x":1984.2,"y":-22.6},{"x":1984.3,"y":0.5},{"x":1984.0,"y":-26.9},{"x":1984.1,"y":4.4},{"x":1984.2,"y":14.8},{"x":1984.3,"y":-8.1},{"x":1984.0,"y":22.7},{"x":1984.1,"y":-1.6},{"x":1984.2,"y":-16.6},{"x":1984.3,"y":6.0},
{"x":1985.3,"y":-2.6},{"x":1985.4,"y":9.3},{"x":1985.5,"y":-18.3},{"x":1985.6,"y":1.7},{"x":1985.7,"y":24.8},{"x":1985.8,"y":-7.3},{"x":1985.9,"y":13.7},{"x":1985.3,"y":-11.8},{"x":1985.4,"y":3.1},{"x":1985.5,"y":28.5},{"x":1985.6,"y":-24.4},{"x":1985.7,"y":0.2},{"x":1985.8,"y":16.3},{"x":1985.9,"y":-4.9},{"x":1985.3,"y":6.6},{"x":1985.4,"y":-15.4},{"x":1985.5,"y":11.3},{"x":1985.6,"y":-0.7},{"x":1985.7,"y":-29.0},{"x":1985.8,"y":5.1},{"x":1985.9,"y":-9.8},
{"x":1986.0,"y":3.8},{"x":1986.3,"y":-19.0},{"x":1986.6,"y":12.4},{"x":1986.9,"y":-4.3},{"x":1986.2,"y":0.9},{"x":1986.5,"y":17.9},{"x":1986.8,"y":-12.9},{"x":1986.1,"y":-27.6},{"x":1986.4,"y":7.1},{"x":1986.7,"y":-0.9},
{"x":1986.1,"y":21.8},{"x":1986.4,"y":-8.1},{"x":1986.7,"y":2.6},{"x":1986.0,"y":-15.9},{"x":1986.3,"y":10.2},{"x":1986.6,"y":-2.4},{"x":1986.9,"y":-23.7},{"x":1986.2,"y":5.9},{"x":1986.5,"y":14.6},{"x":1986.8,"y":-6.7},
{"x":1986.2,"y":-1.3},{"x":1986.5,"y":8.7},{"x":1986.8,"y":-20.7},{"x":1986.1,"y":1.4},{"x":1986.4,"y":26.3},{"x":1986.7,"y":-10.9},{"x":1986.0,"y":4.7},{"x":1986.3,"y":-29.2},{"x":1986.6,"y":16.0},{"x":1986.9,"y":-3.5},
{"x":1987.0,"y":-7.0},{"x":1987.3,"y":5.3},{"x":1987.6,"y":-14.2},{"x":1987.9,"y":19.4},{"x":1987.2,"y":-23.0},{"x":1987.5,"y":1.2},{"x":1987.8,"y":9.6},{"x":1987.1,"y":-2.7},{"x":1987.4,"y":13.2},{"x":1987.7,"y":-18.4},
{"x":1987.1,"y":0.8},{"x":1987.4,"y":-26.0},{"x":1987.7,"y":6.5},{"x":1987.0,"y":27.2},{"x":1987.3,"y":-9.9},{"x":1987.6,"y":2.1},{"x":1987.9,"y":-5.4},{"x":1987.2,"y":11.8},{"x":1987.5,"y":-16.4},{"x":1987.8,"y":0.0},
{"x":1987.2,"y":15.1},{"x":1987.5,"y":-11.1},{"x":1987.8,"y":3.4},{"x":1987.1,"y":-21.3},{"x":1987.4,"y":8.0},{"x":1987.7,"y":-1.6},{"x":1987.0,"y":22.6},{"x":1987.3,"y":-28.3},{"x":1987.6,"y":4.6},{"x":1987.9,"y":-13.7},
{"x":1988.0,"y":10.9},{"x":1988.3,"y":-3.2},{"x":1988.6,"y":-20.0},{"x":1988.9,"y":6.3},{"x":1988.2,"y":-10.5},{"x":1988.5,"y":23.8},{"x":1988.8,"y":0.6},{"x":1988.1,"y":-16.7},{"x":1988.4,"y":3.6},{"x":1988.7,"y":-25.3},
{"x":1988.1,"y":14.0},{"x":1988.4,"y":-6.4},{"x":1988.7,"y":1.5},{"x":1988.0,"y":-12.2},{"x":1988.3,"y":18.2},{"x":1988.6,"y":-0.5},{"x":1988.9,"y":-28.8},{"x":1988.2,"y":7.9},{"x":1988.5,"y":-8.6},{"x":1988.8,"y":12.3},
{"x":1988.2,"y":-22.2},{"x":1988.5,"y":2.7},{"x":1988.8,"y":-4.0},{"x":1988.1,"y":27.7},{"x":1988.4,"y":-14.6},{"x":1988.7,"y":9.0},{"x":1988.0,"y":1.0},{"x":1988.3,"y":-18.0},{"x":1988.6,"y":5.0},{"x":1988.9,"y":-1.9},
{"x":1989.0,"y":-0.9},{"x":1989.3,"y":16.6},{"x":1989.6,"y":-9.4},{"x":1989.9,"y":2.2},{"x":1989.2,"y":8.3},{"x":1989.5,"y":-24.6},{"x":1989.8,"y":13.0},{"x":1989.1,"y":-5.7},{"x":1989.4,"y":-17.5},{"x":1989.7,"y":20.7},
{"x":1989.1,"y":4.4},{"x":1989.4,"y":-12.0},{"x":1989.7,"y":0.1},{"x":1989.0,"y":-27.3},{"x":1989.3,"y":9.7},{"x":1989.6,"y":-3.0},{"x":1989.9,"y":25.7},{"x":1989.2,"y":-14.9},{"x":1989.5,"y":6.9},{"x":1989.8,"y":-7.5},
{"x":1989.2,"y":11.6},{"x":1989.5,"y":-20.3},{"x":1989.8,"y":1.8},{"x":1989.1,"y":17.0},{"x":1989.4,"y":-1.0},{"x":1989.7,"y":-29.5},{"x":1989.0,"y":6.0},{"x":1989.3,"y":-10.8},{"x":1989.6,"y":14.1},{"x":1989.9,"y":3.2},
{"x":1990.0,"y":-13.6},{"x":1990.3,"y":7.4},{"x":1990.6,"y":1.3},{"x":1990.9,"y":-21.1},{"x":1990.2,"y":18.0},{"x":1990.5,"y":-4.6},{"x":1990.8,"y":10.4},{"x":1990.1,"y":-26.7},{"x":1990.4,"y":2.9},{"x":1990.7,"y":-8.9},
{"x":1990.1,"y":24.0},{"x":1990.4,"y":-15.6},{"x":1990.7,"y":5.2},{"x":1990.0,"y":-1.2},{"x":1990.3,"y":13.6},{"x":1990.6,"y":-19.8},{"x":1990.9,"y":0.4},{"x":1990.2,"y":-6.0},{"x":1990.5,"y":27.1},{"x":1990.8,"y":-11.5},
{"x":1990.2,"y":3.9},{"x":1990.5,"y":-23.9},{"x":1990.8,"y":8.5},{"x":1990.1,"y":-2.3},{"x":1990.4,"y":15.7},{"x":1990.7,"y":-16.1},{"x":1990.0,"y":1.7},{"x":1990.3,"y":-28.0},{"x":1990.6,"y":11.1},{"x":1990.9,"y":-5.1},
{"x":1991.0,"y":5.7},{"x":1991.3,"y":-10.0},{"x":1991.6,"y":21.2},{"x":1991.9,"y":-2.0},{"x":1991.2,"y":-17.2},{"x":1991.5,"y":9.9},{"x":1991.8,"y":-25.9},{"x":1991.1,"y":1.6},{"x":1991.4,"y":14.3},{"x":1991.7,"y":-6.3},
{"x":1991.1,"y":-20.9},{"x":1991.4,"y":3.7},{"x":1991.7,"y":11.4},{"x":1991.0,"y":-13.1},{"x":1991.3,"y":0.3},{"x":1991.6,"y":26.8},{"x":1991.9,"y":-8.2},{"x":1991.2,"y":6.4},{"x":1991.5,"y":-29.3},{"x":1991.8,"y":17.2},
{"x":1991.2,"y":-3.9},{"x":1991.5,"y":2.4},{"x":1991.8,"y":-15.0},{"x":1991.1,"y":12.5},{"x":1991.4,"y":-22.9},{"x":1991.7,"y":7.6},{"x":1991.0,"y":-0.6},{"x":1991.3,"y":19.3},{"x":1991.6,"y":-11.6},{"x":1991.9,"y":4.0},
{"x":1992.0,"y":-8.0},{"x":1992.3,"y":12.0},{"x":1992.6,"y":-23.2},{"x":1992.9,"y":4.9},{"x":1992.2,"y":1.1},{"x":1992.5,"y":-14.0},{"x":1992.8,"y":22.4},{"x":1992.1,"y":-4.4},{"x":1992.4,"y":7.7},{"x":1992.7,"y":-27.0},
{"x":1992.1,"y":16.9},{"x":1992.4,"y":-1.8},{"x":1992.7,"y":-10.7},{"x":1992.0,"y":2.0},{"x":1992.3,"y":27.5},{"x":1992.6,"y":-18.6},{"x":1992.9,"y":8.1},{"x":1992.2,"y":-6.9},{"x":1992.5,"y":0.8},{"x":1992.8,"y":-21.0},
{"x":1992.2,"y":13.4},{"x":1992.5,"y":-12.6},{"x":1992.8,"y":4.6},{"x":1992.1,"y":-25.1},{"x":1992.4,"y":10.3},{"x":1992.7,"y":-2.9},{"x":1992.0,"y":18.7},{"x":1992.3,"y":-16.2},{"x":1992.6,"y":1.9},{"x":1992.9,"y":-9.1},
{"x":1993.0,"y":2.5},{"x":1993.3,"y":-18.8},{"x":1993.6,"y":9.1},{"x":1993.9,"y":-7.4},{"x":1993.2,"y":24.3},{"x":1993.5,"y":-0.2},{"x":1993.8,"y":-13.4},{"x":1993.1,"y":6.0},{"x":1993.4,"y":-26.2},{"x":1993.7,"y":15.4},
{"x":1993.1,"y":-3.7},{"x":1993.4,"y":11.7},{"x":1993.7,"y":-21.6},{"x":1993.0,"y":0.9},{"x":1993.3,"y":-9.6},{"x":1993.6,"y":19.9},{"x":1993.9,"y":-16.4},{"x":1993.2,"y":4.3},{"x":1993.5,"y":-28.6},{"x":1993.8,"y":8.9},
{"x":1993.2,"y":-1.4},{"x":1993.5,"y":13.9},{"x":1993.8,"y":-11.0},{"x":1993.1,"y":25.9},{"x":1993.4,"y":-5.2},{"x":1993.7,"y":3.0},{"x":1993.0,"y":-19.5},{"x":1993.3,"y":7.0},{"x":1993.6,"y":-24.0},{"x":1993.9,"y":10.8},
{"x":1994.0,"y":-11.9},{"x":1994.3,"y":5.8},{"x":1994.6,"y":-2.5},{"x":1994.9,"y":17.5},{"x":1994.2,"y":-22.4},{"x":1994.5,"y":2.6},{"x":1994.8,"y":9.4},{"x":1994.1,"y":-15.3},{"x":1994.4,"y":27.0},{"x":1994.7,"y":-6.6},
{"x":1994.1,"y":1.0},{"x":1994.4,"y":-27.5},{"x":1994.7,"y":12.9},{"x":1994.0,"y":-4.7},{"x":1994.3,"y":7.3},{"x":1994.6,"y":-17.7},{"x":1994.9,"y":0.2},{"x":1994.2,"y":21.4},{"x":1994.5,"y":-10.2},{"x":1994.8,"y":4.5},
{"x":1994.2,"y":-25.6},{"x":1994.5,"y":14.8},{"x":1994.8,"y":-1.1},{"x":1994.1,"y":8.6},{"x":1994.4,"y":-13.8},{"x":1994.7,"y":2.3},{"x":1994.0,"y":23.2},{"x":1994.3,"y":-20.2},{"x":1994.6,"y":6.1},{"x":1994.9,"y":-8.8},
{"x":1995.0,"y":7.2},{"x":1995.3,"y":-14.9},{"x":1995.6,"y":0.7},{"x":1995.9,"y":-24.9},{"x":1995.2,"y":12.7},{"x":1995.5,"y":-5.9},{"x":1995.8,"y":19.2},{"x":1995.1,"y":-9.0},{"x":1995.4,"y":3.4},{"x":1995.7,"y":-19.9},
{"x":1995.1,"y":26.1},{"x":1995.4,"y":-1.5},{"x":1995.7,"y":8.4},{"x":1995.0,"y":-27.9},{"x":1995.3,"y":15.9},{"x":1995.6,"y":-12.3},{"x":1995.9,"y":2.8},{"x":1995.2,"y":-3.1},{"x":1995.5,"y":10.9},{"x":1995.8,"y":-16.8},
{"x":1995.2,"y":5.3},{"x":1995.5,"y":-22.7},{"x":1995.8,"y":13.5},{"x":1995.1,"y":-7.8},{"x":1995.4,"y":0.0},{"x":1995.7,"y":17.3},{"x":1995.0,"y":-29.7},{"x":1995.3,"y":9.8},{"x":1995.6,"y":-10.6},{"x":1995.9,"y":4.1},
{"x":1996.0,"y":3.6},{"x":1996.1,"y":-12.1},{"x":1996.2,"y":15.6},{"x":1996.0,"y":-4.2},{"x":1996.1,"y":8.0},{"x":1996.2,"y":-21.5},{"x":1996.0,"y":11.2},{"x":1996.1,"y":-1.3},{"x":1996.2,"y":-26.6},
{"x":1947.15,"y":5.1},{"x":1947.35,"y":-7.3},{"x":1947.55,"y":10.6},{"x":1947.75,"y":-2.8},{"x":1947.95,"y":1.4},{"x":1947.25,"y":-11.2},{"x":1947.45,"y":7.9},{"x":1947.65,"y":-0.3},{"x":1947.85,"y":3.6},{"x":1947.15,"y":-5.5},{"x":1947.35,"y":12.8},{"x":1947.55,"y":0.9},{"x":1947.75,"y":-9.1},{"x":1947.95,"y":4.2},{"x":1947.25,"y":-3.4},{"x":1947.45,"y":8.7},
{"x":1948.05,"y":-1.9},{"x":1948.35,"y":6.4},{"x":1948.65,"y":-9.8},{"x":1948.95,"y":2.3},{"x":1948.25,"y":11.6},{"x":1948.55,"y":-4.1},{"x":1948.85,"y":0.6},{"x":1948.15,"y":-12.7},{"x":1948.45,"y":8.8},{"x":1948.75,"y":-6.3},{"x":1948.05,"y":3.9},{"x":1948.55,"y":9.7},{"x":1948.25,"y":-2.6},{"x":1948.75,"y":13.1},{"x":1948.45,"y":-8.0},{"x":1948.95,"y":-0.2},
{"x":1949.05,"y":7.6},{"x":1949.35,"y":-3.0},{"x":1949.65,"y":1.8},{"x":1949.95,"y":-10.9},{"x":1949.25,"y":4.7},{"x":1949.55,"y":12.2},{"x":1949.85,"y":-6.6},{"x":1949.15,"y":0.1},{"x":1949.45,"y":9.3},{"x":1949.75,"y":-1.4},{"x":1949.05,"y":-8.4},{"x":1949.55,"y":5.5},{"x":1949.25,"y":2.9},{"x":1949.75,"y":-12.1},{"x":1949.45,"y":10.4},{"x":1949.95,"y":-4.8},
{"x":1950.05,"y":-5.1},{"x":1950.35,"y":2.6},{"x":1950.65,"y":11.9},{"x":1950.95,"y":-0.7},{"x":1950.25,"y":-9.6},{"x":1950.55,"y":6.1},{"x":1950.85,"y":-3.8},{"x":1950.15,"y":8.2},{"x":1950.45,"y":0.4},{"x":1950.75,"y":-11.7},{"x":1950.05,"y":4.9},{"x":1950.55,"y":-2.1},{"x":1950.25,"y":13.4},{"x":1950.75,"y":-7.0},{"x":1950.45,"y":1.1},{"x":1950.95,"y":7.2},
{"x":1951.05,"y":3.2},{"x":1951.35,"y":-8.9},{"x":1951.65,"y":5.9},{"x":1951.95,"y":12.5},{"x":1951.25,"y":-2.3},{"x":1951.55,"y":0.3},{"x":1951.85,"y":-12.0},{"x":1951.15,"y":7.1},{"x":1951.45,"y":-5.8},{"x":1951.75,"y":9.0},{"x":1951.05,"y":-0.9},{"x":1951.55,"y":2.0},{"x":1951.25,"y":-6.9},{"x":1951.75,"y":10.8},{"x":1951.45,"y":4.4},{"x":1951.95,"y":-3.7},
{"x":1952.05,"y":-10.3},{"x":1952.35,"y":8.5},{"x":1952.65,"y":-1.6},{"x":1952.95,"y":4.0},{"x":1952.25,"y":-6.2},{"x":1952.55,"y":11.3},{"x":1952.85,"y":1.5},{"x":1952.15,"y":-3.1},{"x":1952.45,"y":6.8},{"x":1952.75,"y":-8.2},{"x":1952.05,"y":13.0},{"x":1952.55,"y":-0.5},{"x":1952.25,"y":5.2},{"x":1952.75,"y":-11.4},{"x":1952.45,"y":2.7},{"x":1952.95,"y":9.6},
{"x":1953.05,"y":6.0},{"x":1953.35,"y":-4.4},{"x":1953.65,"y":0.8},{"x":1953.95,"y":-9.3},{"x":1953.25,"y":10.1},{"x":1953.55,"y":3.4},{"x":1953.85,"y":-1.9},{"x":1953.15,"y":12.9},{"x":1953.45,"y":-7.5},{"x":1953.75,"y":1.9},{"x":1953.05,"y":-12.6},{"x":1953.55,"y":8.0},{"x":1953.25,"y":-3.3},{"x":1953.75,"y":4.6},{"x":1953.45,"y":-0.1},{"x":1953.95,"y":11.2},
{"x":1954.05,"y":-2.0},{"x":1954.35,"y":10.0},{"x":1954.65,"y":-11.0},{"x":1954.95,"y":5.7},{"x":1954.25,"y":-5.1},{"x":1954.55,"y":1.2},{"x":1954.85,"y":8.9},{"x":1954.15,"y":-7.9},{"x":1954.45,"y":2.4},{"x":1954.75,"y":-0.6},{"x":1954.05,"y":6.6},{"x":1954.55,"y":-13.1},{"x":1954.25,"y":11.7},{"x":1954.75,"y":-3.9},{"x":1954.45,"y":0.2},{"x":1954.95,"y":4.8},
{"x":1955.05,"y":1.6},{"x":1955.35,"y":-6.0},{"x":1955.65,"y":9.4},{"x":1955.95,"y":-12.3},{"x":1955.25,"y":3.0},{"x":1955.55,"y":-2.7},{"x":1955.85,"y":7.4},{"x":1955.15,"y":-9.0},{"x":1955.45,"y":12.0},{"x":1955.75,"y":-4.6},{"x":1955.05,"y":0.5},{"x":1955.55,"y":5.3},{"x":1955.25,"y":-10.6},{"x":1955.75,"y":-1.1},{"x":1955.45,"y":8.3},{"x":1955.95,"y":-7.7},
{"x":1956.05,"y":-8.8},{"x":1956.35,"y":4.1},{"x":1956.65,"y":-1.3},{"x":1956.95,"y":11.0},{"x":1956.25,"y":-4.9},{"x":1956.55,"y":7.7},{"x":1956.85,"y":-11.9},{"x":1956.15,"y":0.0},{"x":1956.45,"y":5.8},{"x":1956.75,"y":-6.8},{"x":1956.05,"y":2.2},{"x":1956.55,"y":-12.9},{"x":1956.25,"y":9.5},{"x":1956.75,"y":-3.2},{"x":1956.45,"y":1.3},{"x":1956.95,"y":-9.5},
{"x":1957.05,"y":9.1},{"x":1957.35,"y":-11.1},{"x":1957.65,"y":2.5},{"x":1957.95,"y":-3.6},{"x":1957.25,"y":6.7},{"x":1957.55,"y":-8.1},{"x":1957.85,"y":0.7},{"x":1957.15,"y":12.3},{"x":1957.45,"y":-5.6},{"x":1957.75,"y":3.8},{"x":1957.05,"y":-1.7},{"x":1957.55,"y":-10.2},{"x":1957.25,"y":7.0},{"x":1957.75,"y":-0.4},{"x":1957.45,"y":-12.4},{"x":1957.95,"y":4.5},
{"x":1958.05,"y":-3.5},{"x":1958.35,"y":5.0},{"x":1958.65,"y":-9.7},{"x":1958.95,"y":1.0},{"x":1958.25,"y":-13.0},{"x":1958.55,"y":8.6},{"x":1958.85,"y":-1.8},{"x":1958.15,"y":3.3},{"x":1958.45,"y":-7.2},{"x":1958.75,"y":10.9},{"x":1958.05,"y":-4.0},{"x":1958.55,"y":0.8},{"x":1958.25,"y":6.3},{"x":1958.75,"y":-11.6},{"x":1958.45,"y":2.0},{"x":1958.95,"y":-6.4},
{"x":1959.05,"y":2.1},{"x":1959.35,"y":-12.5},{"x":1959.65,"y":6.9},{"x":1959.95,"y":-4.3},{"x":1959.25,"y":0.3},{"x":1959.55,"y":-9.2},{"x":1959.85,"y":11.4},{"x":1959.15,"y":-1.0},{"x":1959.45,"y":4.3},{"x":1959.75,"y":-7.8},{"x":1959.05,"y":8.1},{"x":1959.55,"y":-2.9},{"x":1959.25,"y":-10.8},{"x":1959.75,"y":5.6},{"x":1959.45,"y":-0.8},{"x":1959.95,"y":12.6},
{"x":1960.05,"y":-6.7},{"x":1960.35,"y":0.9},{"x":1960.65,"y":-11.4},{"x":1960.95,"y":8.4},{"x":1960.25,"y":-2.5},{"x":1960.55,"y":4.6},{"x":1960.85,"y":-8.6},{"x":1960.15,"y":1.7},{"x":1960.45,"y":10.7},{"x":1960.75,"y":-4.7},{"x":1960.05,"y":-13.2},{"x":1960.55,"y":3.1},{"x":1960.25,"y":-0.6},{"x":1960.75,"y":7.3},{"x":1960.45,"y":-9.9},{"x":1960.95,"y":2.8},
{"x":1961.05,"y":4.9},{"x":1961.35,"y":-10.4},{"x":1961.65,"y":-1.2},{"x":1961.95,"y":6.2},{"x":1961.25,"y":-7.6},{"x":1961.55,"y":0.4},{"x":1961.85,"y":11.8},{"x":1961.15,"y":-3.8},{"x":1961.45,"y":-12.2},{"x":1961.75,"y":2.3},{"x":1961.05,"y":5.0},{"x":1961.55,"y":-6.1},{"x":1961.25,"y":9.8},{"x":1961.75,"y":-2.0},{"x":1961.45,"y":-8.7},{"x":1961.95,"y":0.0},
{"x":1962.05,"y":-0.9},{"x":1962.35,"y":7.8},{"x":1962.65,"y":-12.8},{"x":1962.95,"y":3.5},{"x":1962.25,"y":-4.5},{"x":1962.55,"y":10.2},{"x":1962.85,"y":-9.3},{"x":1962.15,"y":1.3},{"x":1962.45,"y":-2.4},{"x":1962.75,"y":6.5},{"x":1962.05,"y":-11.1},{"x":1962.55,"y":4.4},{"x":1962.25,"y":-6.5},{"x":1962.75,"y":12.1},{"x":1962.45,"y":-1.5},{"x":1962.95,"y":-7.4},
{"x":1963.05,"y":3.7},{"x":1963.35,"y":-8.3},{"x":1963.65,"y":0.6},{"x":1963.95,"y":-13.3},{"x":1963.25,"y":9.2},{"x":1963.55,"y":-2.9},{"x":1963.85,"y":5.3},{"x":1963.15,"y":-10.0},{"x":1963.45,"y":-0.2},{"x":1963.75,"y":11.5},{"x":1963.05,"y":-5.3},{"x":1963.55,"y":2.6},{"x":1963.25,"y":-12.7},{"x":1963.75,"y":7.4},{"x":1963.45,"y":-3.6},{"x":1963.95,"y":1.7},
{"x":1964.05,"y":-9.4},{"x":1964.35,"y":2.2},{"x":1964.65,"y":-4.2},{"x":1964.95,"y":10.5},{"x":1964.25,"y":-11.8},{"x":1964.55,"y":6.0},{"x":1964.85,"y":-1.4},{"x":1964.15,"y":-7.1},{"x":1964.45,"y":3.9},{"x":1964.75,"y":-12.0},{"x":1964.05,"y":8.5},{"x":1964.55,"y":-0.3},{"x":1964.25,"y":-5.8},{"x":1964.75,"y":1.5},{"x":1964.45,"y":12.7},{"x":1964.95,"y":-3.0},
{"x":1965.05,"y":6.3},{"x":1965.35,"y":-2.2},{"x":1965.65,"y":-11.5},{"x":1965.95,"y":0.2},{"x":1965.25,"y":8.0},{"x":1965.55,"y":-6.4},{"x":1965.85,"y":3.6},{"x":1965.15,"y":-13.4},{"x":1965.45,"y":-1.0},{"x":1965.75,"y":10.3},{"x":1965.05,"y":-8.0},{"x":1965.55,"y":4.7},{"x":1965.25,"y":-4.4},{"x":1965.75,"y":1.0},{"x":1965.45,"y":-10.7},{"x":1965.95,"y":7.2},
{"x":1966.05,"y":-4.8},{"x":1966.35,"y":11.1},{"x":1966.65,"y":-0.4},{"x":1966.95,"y":-9.1},{"x":1966.25,"y":2.7},{"x":1966.55,"y":-12.6},{"x":1966.85,"y":6.8},{"x":1966.15,"y":-3.4},{"x":1966.45,"y":9.9},{"x":1966.75,"y":-7.3},{"x":1966.05,"y":0.5},{"x":1966.55,"y":-11.0},{"x":1966.25,"y":4.0},{"x":1966.75,"y":-2.1},{"x":1966.45,"y":8.1},{"x":1966.95,"y":-5.9},
{"x":1967.05,"y":10.4},{"x":1967.35,"y":-5.6},{"x":1967.65,"y":1.9},{"x":1967.95,"y":-8.5},{"x":1967.25,"y":5.1},{"x":1967.55,"y":-0.9},{"x":1967.85,"y":12.4},{"x":1967.15,"y":-11.3},{"x":1967.45,"y":3.2},{"x":1967.75,"y":-3.1},{"x":1967.05,"y":7.9},{"x":1967.55,"y":-9.6},{"x":1967.25,"y":0.1},{"x":1967.75,"y":6.0},{"x":1967.45,"y":-1.8},{"x":1967.95,"y":-12.9},
{"x":1968.05,"y":-1.1},{"x":1968.35,"y":4.5},{"x":1968.65,"y":-10.1},{"x":1968.95,"y":8.9},{"x":1968.25,"y":-3.9},{"x":1968.55,"y":13.2},{"x":1968.85,"y":-6.9},{"x":1968.15,"y":2.0},{"x":1968.45,"y":-12.3},{"x":1968.75,"y":0.9},{"x":1968.05,"y":-5.0},{"x":1968.55,"y":7.0},{"x":1968.25,"y":-0.5},{"x":1968.75,"y":11.0},{"x":1968.45,"y":-8.2},{"x":1968.95,"y":3.5},
{"x":1969.05,"y":0.7},{"x":1969.35,"y":-9.0},{"x":1969.55,"y":5.4},{"x":1969.95,"y":-2.6},{"x":1969.25,"y":12.8},{"x":1969.45,"y":-6.1},{"x":1969.85,"y":2.3},{"x":1969.15,"y":-11.7},{"x":1969.45,"y":9.4},{"x":1969.95,"y":-0.3},{"x":1969.05,"y":-4.3},{"x":1969.55,"y":6.4},{"x":1969.25,"y":-13.0},{"x":1969.95,"y":1.5},{"x":1969.45,"y":-7.0},{"x":1969.15,"y":10.0},
{"x":1970.05,"y":-7.8},{"x":1970.35,"y":3.0},{"x":1970.65,"y":-0.6},{"x":1970.95,"y":11.3},{"x":1970.25,"y":-4.0},{"x":1970.55,"y":6.9},{"x":1970.85,"y":-10.5},{"x":1970.15,"y":1.2},{"x":1970.45,"y":-2.2},{"x":1970.75,"y":8.2},{"x":1970.05,"y":-12.1},{"x":1970.55,"y":4.1},{"x":1970.25,"y":-5.4},{"x":1970.75,"y":0.3},{"x":1970.45,"y":9.7},{"x":1970.95,"y":-8.9},
{"x":1971.05,"y":2.9},{"x":1971.35,"y":-11.3},{"x":1971.65,"y":7.6},{"x":1971.95,"y":-1.5},{"x":1971.25,"y":-6.6},{"x":1971.55,"y":10.6},{"x":1971.85,"y":0.2},{"x":1971.15,"y":-9.4},{"x":1971.45,"y":5.2},{"x":1971.75,"y":-3.3},{"x":1971.05,"y":12.4},{"x":1971.55,"y":-0.7},{"x":1971.25,"y":-12.5},{"x":1971.75,"y":3.9},{"x":1971.45,"y":-5.0},{"x":1971.95,"y":8.7},
{"x":1972.05,"y":-3.4},{"x":1972.35,"y":9.5},{"x":1972.65,"y":-8.0},{"x":1972.95,"y":1.6},{"x":1972.25,"y":4.8},{"x":1972.55,"y":-12.7},{"x":1972.85,"y":-1.2},{"x":1972.15,"y":6.7},{"x":1972.45,"y":-5.9},{"x":1972.75,"y":11.9},{"x":1972.05,"y":0.6},{"x":1972.55,"y":-10.0},{"x":1972.25,"y":2.5},{"x":1972.75,"y":-2.8},{"x":1972.45,"y":7.5},{"x":1972.95,"y":-13.1},
{"x":1973.05,"y":8.3},{"x":1973.35,"y":-1.7},{"x":1973.65,"y":-10.8},{"x":1973.95,"y":4.2},{"x":1973.25,"y":-4.7},{"x":1973.55,"y":0.8},{"x":1973.85,"y":12.0},{"x":1973.15,"y":-7.6},{"x":1973.45,"y":2.7},{"x":1973.75,"y":-12.2},{"x":1973.05,"y":6.1},{"x":1973.55,"y":-0.1},{"x":1973.25,"y":-8.9},{"x":1973.75,"y":10.2},{"x":1973.45,"y":-3.0},{"x":1973.95,"y":1.4},
{"x":1974.05,"y":-11.9},{"x":1974.35,"y":5.5},{"x":1974.65,"y":0.1},{"x":1974.95,"y":-4.4},{"x":1974.25,"y":9.1},{"x":1974.55,"y":-8.4},{"x":1974.85,"y":3.1},{"x":1974.15,"y":-1.3},{"x":1974.45,"y":13.3},{"x":1974.75,"y":-6.0},{"x":1974.05,"y":1.8},{"x":1974.55,"y":-10.9},{"x":1974.25,"y":7.7},{"x":1974.75,"y":-2.5},{"x":1974.45,"y":-12.8},{"x":1974.95,"y":4.3},
{"x":1975.05,"y":1.0},{"x":1975.35,"y":-7.0},{"x":1975.65,"y":11.7},{"x":1975.95,"y":-3.0},{"x":1975.25,"y":-12.0},{"x":1975.55,"y":5.9},{"x":1975.85,"y":-0.8},{"x":1975.15,"y":8.6},{"x":1975.45,"y":-9.8},{"x":1975.75,"y":2.4},{"x":1975.05,"y":-4.9},{"x":1975.55,"y":10.1},{"x":1975.25,"y":-1.9},{"x":1975.75,"y":-11.2},{"x":1975.45,"y":6.7},{"x":1975.95,"y":0.4},
{"x":1976.05,"y":-5.7},{"x":1976.35,"y":2.5},{"x":1976.65,"y":-13.0},{"x":1976.95,"y":7.2},{"x":1976.25,"y":0.0},{"x":1976.55,"y":-8.8},{"x":1976.85,"y":10.9},{"x":1976.15,"y":-2.3},{"x":1976.45,"y":4.6},{"x":1976.75,"y":-10.3},{"x":1976.05,"y":-0.9},{"x":1976.55,"y":12.2},{"x":1976.25,"y":-6.2},{"x":1976.75,"y":3.4},{"x":1976.45,"y":-4.1},{"x":1976.95,"y":9.0},
{"x":1977.05,"y":6.6},{"x":1977.35,"y":-9.3},{"x":1977.65,"y":1.4},{"x":1977.95,"y":-1.6},{"x":1977.25,"y":11.0},{"x":1977.55,"y":-5.2},{"x":1977.85,"y":-12.5},{"x":1977.15,"y":3.7},{"x":1977.45,"y":8.1},{"x":1977.75,"y":-3.5},{"x":1977.05,"y":0.5},{"x":1977.55,"y":-10.7},{"x":1977.25,"y":5.0},{"x":1977.75,"y":-7.4},{"x":1977.45,"y":2.1},{"x":1977.95,"y":-0.6},
{"x":1978.05,"y":-2.7},{"x":1978.35,"y":12.5},{"x":1978.65,"y":-7.3},{"x":1978.95,"y":0.7},{"x":1978.25,"y":-11.0},{"x":1978.55,"y":4.0},{"x":1978.85,"y":-4.5},{"x":1978.15,"y":9.3},{"x":1978.45,"y":-0.2},{"x":1978.75,"y":-13.3},{"x":1978.05,"y":6.4},{"x":1978.55,"y":1.9},{"x":1978.25,"y":-8.1},{"x":1978.75,"y":11.4},{"x":1978.45,"y":-5.5},{"x":1978.95,"y":3.0},
{"x":1979.05,"y":3.6},{"x":1979.35,"y":-6.6},{"x":1979.65,"y":9.8},{"x":1979.95,"y":-12.4},{"x":1979.25,"y":1.3},{"x":1979.55,"y":-3.2},{"x":1979.85,"y":7.0},{"x":1979.15,"y":-9.9},{"x":1979.45,"y":-0.7},{"x":1979.75,"y":5.4},{"x":1979.05,"y":-11.5},{"x":1979.55,"y":12.0},{"x":1979.25,"y":-1.4},{"x":1979.75,"y":2.8},{"x":1979.45,"y":-7.9},{"x":1979.95,"y":0.9},
{"x":1980.05,"y":-8.5},{"x":1980.35,"y":0.5},{"x":1980.85,"y":-2.0},{"x":1980.95,"y":6.0},{"x":1980.25,"y":-12.2},{"x":1980.45,"y":10.4},{"x":1980.85,"y":3.3},{"x":1980.15,"y":-5.0},{"x":1980.45,"y":-10.9},{"x":1980.75,"y":1.6},{"x":1980.05,"y":8.8},{"x":1980.35,"y":-3.9},{"x":1980.25,"y":-0.3},{"x":1980.75,"y":12.9},{"x":1980.45,"y":-6.7},{"x":1980.95,"y":4.7},
{"x":1981.05,"y":0.3},{"x":1981.35,"y":-11.6},{"x":1981.65,"y":5.6},{"x":1981.95,"y":-3.4},{"x":1981.25,"y":12.7},{"x":1981.55,"y":-7.7},{"x":1981.85,"y":1.0},{"x":1981.15,"y":-0.9},{"x":1981.45,"y":8.4},{"x":1981.75,"y":-10.1},{"x":1981.05,"y":3.5},{"x":1981.55,"y":-5.1},{"x":1981.25,"y":-13.0},{"x":1981.75,"y":9.9},{"x":1981.45,"y":-1.3},{"x":1981.95,"y":6.2},
{"x":1982.05,"y":-4.6},{"x":1982.35,"y":7.4},{"x":1982.65,"y":-9.5},{"x":1982.95,"y":2.4},{"x":1982.25,"y":-1.1},{"x":1982.55,"y":11.8},{"x":1982.85,"y":-12.6},{"x":1982.15,"y":4.9},{"x":1982.45,"y":-6.3},{"x":1982.75,"y":0.0},{"x":1982.05,"y":10.6},{"x":1982.55,"y":-2.8},{"x":1982.25,"y":-8.6},{"x":1982.75,"y":3.1},{"x":1982.45,"y":-11.7},{"x":1982.95,"y":5.8},
{"x":1983.05,"y":9.2},{"x":1983.35,"y":-2.4},{"x":1983.65,"y":0.6},{"x":1983.95,"y":-10.7},{"x":1983.25,"y":4.4},{"x":1983.55,"y":-5.5},{"x":1983.85,"y":13.1},{"x":1983.15,"y":-8.9},{"x":1983.45,"y":1.8},{"x":1983.75,"y":-0.5},{"x":1983.05,"y":-12.0},{"x":1983.55,"y":6.8},{"x":1983.25,"y":-3.6},{"x":1983.75,"y":11.3},{"x":1983.45,"y":-6.9},{"x":1983.95,"y":2.3},
{"x":1984.05,"y":-3.0},{"x":1984.15,"y":8.9},{"x":1984.25,"y":-9.6},{"x":1984.05,"y":2.6},{"x":1984.15,"y":-0.8},{"x":1984.25,"y":11.7},{"x":1984.05,"y":-12.4},{"x":1984.15,"y":5.0},
{"x":1985.35,"y":4.0},{"x":1985.45,"y":-7.1},{"x":1985.55,"y":10.8},{"x":1985.65,"y":-1.9},{"x":1985.75,"y":1.3},{"x":1985.85,"y":-11.3},{"x":1985.95,"y":6.9},{"x":1985.45,"y":-4.0},{"x":1985.65,"y":12.6},{"x":1985.85,"y":-0.4},{"x":1985.95,"y":-8.8},
{"x":1986.05,"y":-6.0},{"x":1986.35,"y":1.8},{"x":1986.65,"y":11.0},{"x":1986.95,"y":-10.2},{"x":1986.25,"y":3.9},{"x":1986.55,"y":-2.1},{"x":1986.85,"y":7.6},{"x":1986.15,"y":-12.9},{"x":1986.45,"y":0.4},{"x":1986.75,"y":-4.8},{"x":1986.05,"y":9.4},{"x":1986.55,"y":-8.3},{"x":1986.25,"y":5.7},{"x":1986.75,"y":-0.9},{"x":1986.45,"y":12.3},{"x":1986.95,"y":-5.6},
{"x":1987.05,"y":2.7},{"x":1987.35,"y":-9.1},{"x":1987.65,"y":-0.2},{"x":1987.95,"y":6.8},{"x":1987.25,"y":-12.4},{"x":1987.55,"y":10.2},{"x":1987.85,"y":-3.7},{"x":1987.15,"y":1.5},{"x":1987.45,"y":-7.5},{"x":1987.75,"y":4.5},{"x":1987.05,"y":-1.4},{"x":1987.55,"y":12.9},{"x":1987.25,"y":-10.6},{"x":1987.75,"y":8.3},{"x":1987.45,"y":-5.2},{"x":1987.95,"y":0.8},
{"x":1988.05,"y":-10.8},{"x":1988.35,"y":5.9},{"x":1988.65,"y":-3.3},{"x":1988.95,"y":0.2},{"x":1988.25,"y":9.0},{"x":1988.55,"y":-6.8},{"x":1988.85,"y":2.1},{"x":1988.15,"y":-12.1},{"x":1988.45,"y":11.6},{"x":1988.75,"y":-1.0},{"x":1988.05,"y":-7.9},{"x":1988.55,"y":3.6},{"x":1988.25,"y":-0.5},{"x":1988.75,"y":7.3},{"x":1988.45,"y":-11.9},{"x":1988.95,"y":-4.1},
{"x":1989.05,"y":4.6},{"x":1989.35,"y":-1.5},{"x":1989.65,"y":-11.2},{"x":1989.95,"y":8.1},{"x":1989.25,"y":-5.7},{"x":1989.55,"y":1.1},{"x":1989.85,"y":12.6},{"x":1989.15,"y":-8.6},{"x":1989.45,"y":-2.5},{"x":1989.75,"y":6.3},{"x":1989.05,"y":0.3},{"x":1989.55,"y":-13.1},{"x":1989.25,"y":9.8},{"x":1989.75,"y":-4.4},{"x":1989.45,"y":2.8},{"x":1989.95,"y":-9.0},
{"x":1990.05,"y":-0.8},{"x":1990.35,"y":10.5},{"x":1990.65,"y":-7.1},{"x":1990.95,"y":2.9},{"x":1990.25,"y":-12.0},{"x":1990.55,"y":5.2},{"x":1990.85,"y":-3.4},{"x":1990.15,"y":-9.5},{"x":1990.45,"y":7.9},{"x":1990.75,"y":0.6},{"x":1990.05,"y":-5.3},{"x":1990.55,"y":11.9},{"x":1990.25,"y":-1.7},{"x":1990.75,"y":4.0},{"x":1990.45,"y":-10.4},{"x":1990.95,"y":1.9},
{"x":1991.05,"y":7.1},{"x":1991.35,"y":-4.2},{"x":1991.65,"y":1.2},{"x":1991.95,"y":-10.9},{"x":1991.25,"y":-0.6},{"x":1991.55,"y":9.6},{"x":1991.85,"y":-7.0},{"x":1991.15,"y":3.4},{"x":1991.45,"y":-12.7},{"x":1991.75,"y":12.1},{"x":1991.05,"y":-2.9},{"x":1991.55,"y":5.0},{"x":1991.25,"y":-8.4},{"x":1991.75,"y":0.0},{"x":1991.45,"y":6.5},{"x":1991.95,"y":-5.9},
{"x":1992.05,"y":-2.3},{"x":1992.35,"y":3.9},{"x":1992.65,"y":-12.3},{"x":1992.95,"y":8.8},{"x":1992.25,"y":-6.4},{"x":1992.55,"y":0.8},{"x":1992.85,"y":11.3},{"x":1992.15,"y":-9.8},{"x":1992.45,"y":1.6},{"x":1992.75,"y":-0.9},{"x":1992.05,"y":-11.1},{"x":1992.55,"y":6.0},{"x":1992.25,"y":-3.9},{"x":1992.75,"y":10.0},{"x":1992.45,"y":-7.6},{"x":1992.95,"y":4.3},
{"x":1993.05,"y":11.4},{"x":1993.35,"y":-7.3},{"x":1993.65,"y":-1.8},{"x":1993.95,"y":4.1},{"x":1993.25,"y":-10.4},{"x":1993.55,"y":2.2},{"x":1993.85,"y":-4.9},{"x":1993.15,"y":7.8},{"x":1993.45,"y":-13.0},{"x":1993.75,"y":0.5},{"x":1993.05,"y":9.2},{"x":1993.55,"y":-5.8},{"x":1993.25,"y":1.3},{"x":1993.75,"y":-11.5},{"x":1993.45,"y":-0.3},{"x":1993.95,"y":6.6},
{"x":1994.05,"y":-9.2},{"x":1994.35,"y":0.7},{"x":1994.65,"y":6.4},{"x":1994.95,"y":-3.1},{"x":1994.25,"y":12.2},{"x":1994.55,"y":-11.8},{"x":1994.85,"y":1.9},{"x":1994.15,"y":-6.1},{"x":1994.45,"y":4.8},{"x":1994.75,"y":-0.8},{"x":1994.05,"y":-12.6},{"x":1994.55,"y":10.6},{"x":1994.25,"y":-2.2},{"x":1994.75,"y":3.0},{"x":1994.45,"y":-8.0},{"x":1994.95,"y":8.4},
{"x":1995.05,"y":0.9},{"x":1995.35,"y":-6.9},{"x":1995.65,"y":-11.0},{"x":1995.95,"y":5.4},{"x":1995.25,"y":-2.6},{"x":1995.55,"y":9.5},{"x":1995.85,"y":-8.7},{"x":1995.15,"y":2.6},{"x":1995.45,"y":-0.1},{"x":1995.75,"y":12.4},{"x":1995.05,"y":-4.4},{"x":1995.55,"y":-10.1},{"x":1995.25,"y":7.2},{"x":1995.75,"y":1.4},{"x":1995.45,"y":-12.9},{"x":1995.95,"y":4.0},
{"x":1996.05,"y":-3.5},{"x":1996.15,"y":7.3},{"x":1996.05,"y":1.2},{"x":1996.15,"y":-9.4},{"x":1996.05,"y":10.2},{"x":1996.15,"y":-0.7}
],
"trend": [{"x":1947.1,"y":0.45},{"x":1996.2,"y":-1.03}],
"none": []
},
"layer": [
{"data": {"name": "pts"},
 "mark": {"type": "point", "shape": "diamond", "filled": true, "size": 85, "strokeWidth": 0, "opacity": 1},
 "encoding": {
  "x": {"field": "x", "type": "quantitative", "scale": {"domain": [1945, 1999.45], "nice": false, "zero": false},
   "axis": {"orient": "bottom", "offset": -290, "values": [1945, 1955, 1965, 1975, 1985, 1995], "format": "d", "labelFontSize": 30, "labelFontWeight": "bold", "labelColor": "black", "labelFont": "Liberation Sans", "ticks": false, "domain": false, "grid": false, "labelPadding": 32, "zindex": 1, "labelFlush": false, "labelOverlap": false,
    "title": "Year", "titleFontSize": 31, "titleFontWeight": "bold", "titleColor": "black", "titleFont": "Liberation Sans", "titleX": 123, "titleY": 352, "titleBaseline": "alphabetic", "titleAlign": "center"}},
  "y": {"field": "y", "type": "quantitative", "scale": {"domain": [-30, 30], "nice": false},
   "axis": {"values": [-30, -20, -10, 0, 10, 20, 30], "labelExpr": "'' + datum.value", "labelFontSize": 26, "labelFontWeight": "bold", "labelColor": "black", "labelFont": "Liberation Sans", "domainColor": "black", "domainWidth": 4, "tickColor": "black", "tickSize": 8, "tickWidth": 1, "labelPadding": 24, "labelFlush": false, "labelOverlap": false, "grid": true, "gridColor": "black", "gridWidth": 1, "gridOpacity": 1,
    "title": ["[foF2(Meas) - foF2(NN)]", "/foF2(NN) %"], "titleFontSize": 34, "titleFontWeight": "bold", "titleColor": "black", "titleFont": "Liberation Sans", "titleX": -158, "titleY": 290, "titleAlign": "center", "titleBaseline": "middle", "titleLineHeight": 37}},
  "color": {"datum": "DfoF2%", "scale": {"domain": ["DfoF2%", "Linear (DfoF2%)"], "range": ["#000080", "#FF0000"]},
   "legend": {"orient": "none", "legendX": 266, "legendY": 589, "title": null, "labelFontSize": 35, "labelFont": "Liberation Sans", "labelFontWeight": "bold", "labelColor": "black", "strokeColor": "black", "fillColor": "white", "padding": 8, "rowPadding": 8, "labelOffset": 8, "symbolOffset": 9, "labelLimit": 1000, "symbolSize": 1156, "symbolStrokeWidth": 0}}
 }},
{"data": {"name": "none"},
 "mark": {"type": "point", "filled": true},
 "encoding": {
  "shape": {"datum": "DfoF2%", "scale": {"domain": ["DfoF2%", "Linear (DfoF2%)"], "range": ["M0,-0.14L0.14,0L0,0.14L-0.14,0Z", "M-1,-0.12H1V0.12H-1Z"]},
   "legend": {"orient": "none", "legendX": 266, "legendY": 589, "title": null, "labelFontSize": 35, "labelFont": "Liberation Sans", "labelFontWeight": "bold", "labelColor": "black", "strokeColor": "black", "fillColor": "white", "padding": 8, "rowPadding": 8, "labelOffset": 8, "symbolOffset": 9, "labelLimit": 1000, "symbolSize": 1156, "symbolStrokeWidth": 0}}}},
{"data": {"name": "trend"},
 "mark": {"type": "line", "strokeWidth": 4},
 "encoding": {"x": {"field": "x", "type": "quantitative"}, "y": {"field": "y", "type": "quantitative"}, "color": {"datum": "Linear (DfoF2%)"}}},
{"mark": {"type": "rule", "color": "black", "strokeWidth": 4}, "encoding": {"y": {"datum": 30}}},
{"mark": {"type": "rule", "color": "black", "strokeWidth": 4}, "encoding": {"y": {"datum": -30}}}
]
}
